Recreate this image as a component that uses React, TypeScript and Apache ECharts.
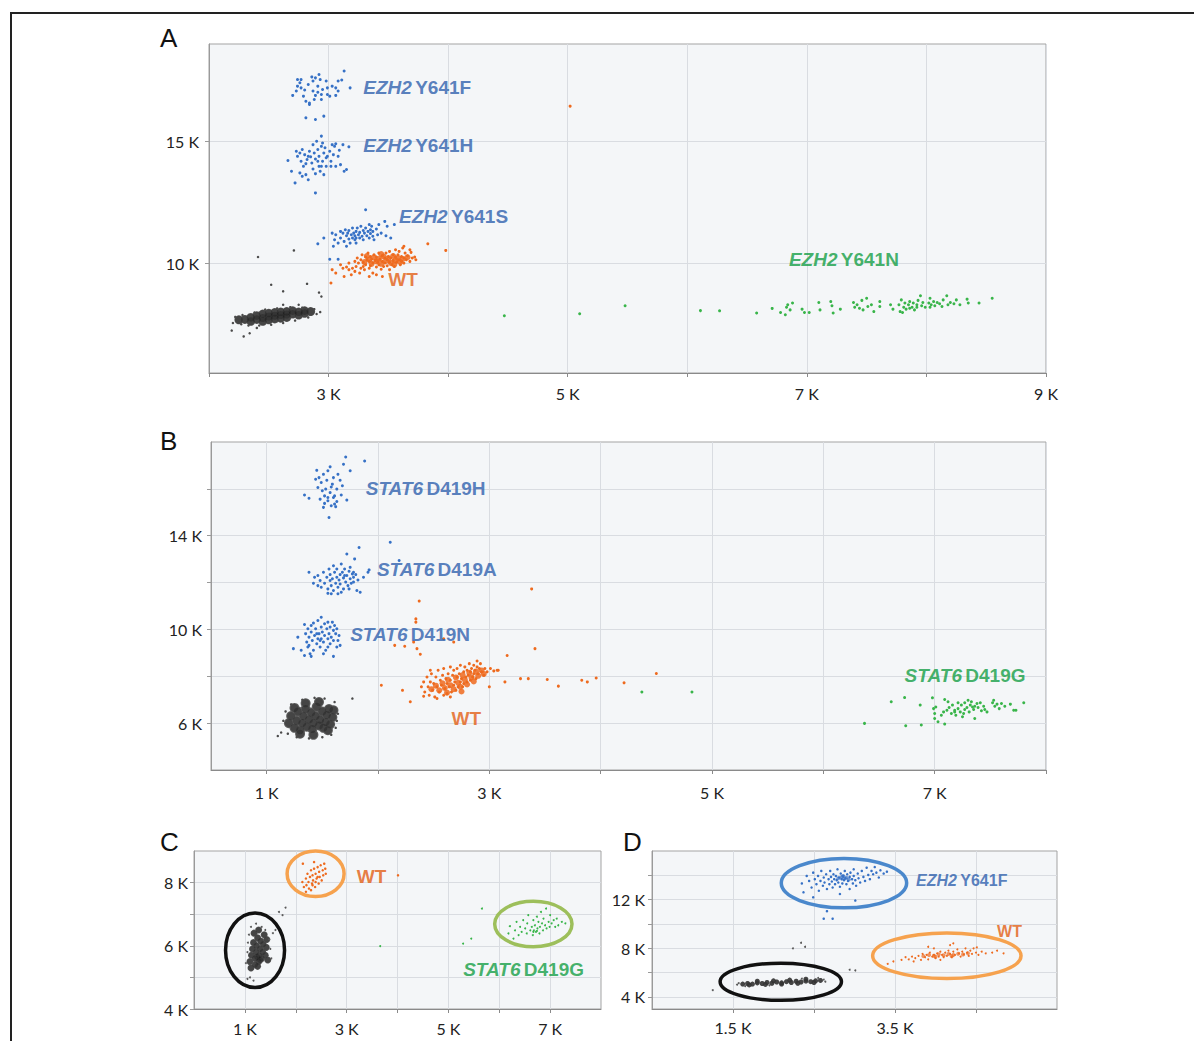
import { useEffect, useRef } from 'react';
import * as echarts from 'echarts';

type Pt = [number, number];

// All intensities are in thousands of fluorescence units (axis labels read "n K").

// ---------- Panel A: EZH2 Y641 ----------
const aNoTemplateCore: Pt[] = [
  [2.25, 7.68], [2.30, 7.70], [2.35, 7.78], [2.35, 7.62], [2.40, 7.85], [2.40, 7.70], [2.45, 7.92], [2.45, 7.76],
  [2.45, 7.62], [2.50, 7.95], [2.50, 7.82], [2.50, 7.68], [2.55, 7.98], [2.55, 7.85], [2.55, 7.72], [2.60, 8.00],
  [2.60, 7.88], [2.60, 7.75], [2.65, 8.02], [2.65, 7.90], [2.65, 7.78], [2.70, 8.05], [2.70, 7.92], [2.75, 8.00],
  [2.75, 7.88], [2.80, 8.05], [2.80, 7.95], [2.85, 8.02],
];
const aNoTemplateEdge: Pt[] = [
  [2.20, 7.55], [2.22, 7.80], [2.27, 7.50], [2.28, 7.88], [2.33, 7.45], [2.38, 7.98], [2.42, 7.45], [2.47, 8.10],
  [2.52, 7.48], [2.57, 8.15], [2.62, 7.55], [2.68, 8.20], [2.72, 7.65], [2.78, 8.18], [2.83, 7.78], [2.88, 8.12],
  [2.90, 7.92], [2.93, 8.00], [2.19, 7.24], [2.29, 7.00], [2.34, 7.13], [2.41, 10.26], [2.71, 10.53], [2.52, 9.12],
  [2.62, 8.85], [2.82, 9.16], [2.92, 8.80], [2.94, 8.64], [2.75, 8.30], [2.62, 8.30], [2.40, 7.35],
];
const aWildType: Pt[] = [
  [3.02, 9.19], [3.03, 9.74], [3.06, 9.60], [3.10, 9.94], [3.13, 9.46], [3.15, 9.85], [3.17, 10.01], [3.19, 9.53],
  [3.20, 9.80], [3.22, 10.08], [3.22, 9.67], [3.23, 9.87], [3.24, 10.22], [3.25, 10.01], [3.26, 9.60], [3.27, 10.15],
  [3.28, 10.35], [3.29, 9.87], [3.29, 10.04], [3.30, 9.74], [3.31, 10.26], [3.31, 9.94], [3.32, 10.15], [3.33, 10.42],
  [3.34, 9.80], [3.34, 10.08], [3.35, 10.28], [3.35, 9.90], [3.36, 10.17], [3.37, 9.60], [3.37, 10.01], [3.38, 10.35],
  [3.39, 10.12], [3.40, 9.85], [3.40, 10.26], [3.41, 10.04], [3.42, 10.42], [3.42, 9.94], [3.43, 10.17], [3.44, 9.76],
  [3.45, 10.31], [3.45, 10.08], [3.46, 9.87], [3.47, 10.22], [3.47, 10.01], [3.48, 10.42], [3.49, 10.15], [3.49, 9.90],
  [3.50, 10.28], [3.51, 10.04], [3.51, 10.49], [3.52, 10.22], [3.53, 9.94], [3.54, 10.35], [3.54, 10.12], [3.55, 9.87],
  [3.56, 10.26], [3.56, 10.56], [3.57, 10.04], [3.58, 10.35], [3.59, 10.15], [3.59, 10.49], [3.60, 9.94], [3.61, 10.28],
  [3.61, 10.08], [3.62, 10.63], [3.63, 10.22], [3.63, 10.01], [3.64, 10.42], [3.65, 10.15], [3.66, 10.31], [3.68, 10.08],
  [3.69, 10.45], [3.70, 10.22], [3.72, 10.26], [3.45, 9.46], [3.40, 9.53], [3.34, 9.46], [3.51, 9.74], [3.83, 10.80],
  [3.98, 10.53], [5.02, 16.45], [3.12, 9.80], [3.17, 9.74], [3.27, 9.80], [3.63, 10.70], [3.68, 10.56], [3.73, 10.15],
];
const aWildTypeCore: Pt[] = [
  [3.30, 10.05], [3.34, 10.15], [3.36, 9.98], [3.38, 10.25], [3.40, 10.08], [3.42, 10.18], [3.44, 9.98], [3.46, 10.28],
  [3.48, 10.10], [3.50, 10.20], [3.52, 10.02], [3.54, 10.30], [3.56, 10.12], [3.58, 10.22], [3.60, 10.05], [3.62, 10.18],
  [3.32, 10.30], [3.44, 10.38], [3.55, 9.95], [3.66, 10.25],
];
const aY641S: Pt[] = [
  [2.91, 10.80], [2.96, 11.04], [3.01, 10.17], [3.03, 11.24], [3.04, 10.70], [3.05, 10.97], [3.06, 11.17], [3.08, 10.83],
  [3.08, 10.17], [3.10, 11.31], [3.10, 11.04], [3.12, 11.24], [3.13, 10.90], [3.14, 11.38], [3.15, 11.13], [3.15, 10.70],
  [3.16, 11.24], [3.17, 11.00], [3.17, 11.35], [3.18, 10.83], [3.19, 11.17], [3.20, 11.04], [3.20, 11.45], [3.21, 11.24],
  [3.22, 10.97], [3.22, 11.13], [3.23, 11.31], [3.23, 10.83], [3.24, 11.45], [3.25, 11.17], [3.26, 11.04], [3.26, 11.27],
  [3.27, 11.52], [3.28, 11.11], [3.29, 11.35], [3.29, 10.97], [3.30, 11.24], [3.31, 12.20], [3.31, 11.45], [3.32, 11.13],
  [3.33, 11.31], [3.34, 11.59], [3.34, 11.04], [3.35, 11.38], [3.35, 11.22], [3.36, 11.52], [3.37, 11.11], [3.37, 11.31],
  [3.38, 10.97], [3.40, 11.41], [3.41, 11.17], [3.42, 11.59], [3.44, 11.24], [3.47, 11.72], [3.48, 11.13], [3.49, 11.52],
  [3.52, 11.04], [3.55, 11.59], [3.23, 11.04],
];
const aY641H: Pt[] = [
  [2.66, 14.22], [2.69, 13.78], [2.72, 13.30], [2.73, 14.60], [2.74, 14.39], [2.76, 14.53], [2.77, 14.19], [2.78, 14.67],
  [2.79, 13.98], [2.80, 14.46], [2.81, 13.64], [2.82, 14.26], [2.83, 13.43], [2.84, 14.60], [2.85, 14.37], [2.86, 14.12],
  [2.87, 14.87], [2.87, 13.87], [2.88, 14.53], [2.89, 12.89], [2.89, 14.28], [2.90, 15.01], [2.91, 14.67], [2.92, 13.98],
  [2.92, 14.39], [2.93, 13.78], [2.94, 14.80], [2.94, 15.22], [2.95, 14.19], [2.96, 14.53], [2.96, 13.64], [2.97, 14.74],
  [2.98, 13.98], [2.99, 14.39], [3.01, 14.60], [3.02, 14.19], [3.03, 14.87], [3.04, 14.46], [3.05, 14.80], [3.06, 14.91],
  [3.06, 13.98], [3.08, 14.39], [3.09, 14.64], [3.10, 14.05], [3.12, 14.87], [3.13, 13.78], [3.15, 13.85], [3.17, 14.78],
  [2.76, 13.71], [2.81, 14.09], [2.83, 14.39], [2.91, 14.19], [2.94, 13.98], [2.98, 14.33], [2.78, 13.57], [2.89, 13.68],
  [2.95, 14.94], [3.02, 13.98],
];
const aY641F: Pt[] = [
  [2.74, 17.54], [2.76, 17.41], [2.77, 17.20], [2.70, 16.89], [2.73, 17.07], [2.79, 16.86], [2.81, 16.65], [2.84, 16.58],
  [2.86, 17.65], [2.87, 17.48], [2.89, 17.61], [2.92, 17.75], [2.93, 17.54], [2.91, 17.27], [2.87, 17.07], [2.89, 16.89],
  [2.94, 16.72], [2.95, 17.13], [2.99, 17.20], [2.99, 16.93], [3.03, 17.27], [3.06, 17.20], [3.06, 16.89], [3.08, 17.48],
  [3.11, 17.52], [3.13, 17.89], [3.18, 17.20], [2.81, 15.97], [2.89, 15.90], [2.96, 16.04], [2.84, 16.52], [2.80, 17.11],
  [2.83, 17.34], [2.77, 17.54], [2.94, 16.93], [3.01, 16.86], [3.08, 17.07], [2.74, 17.27], [2.91, 17.02], [2.88, 16.72],
  [2.98, 17.48],
];
const aY641N: Pt[] = [
  [5.48, 8.26], [6.11, 8.06], [6.27, 8.05], [6.58, 7.96], [6.71, 8.15], [6.78, 7.98], [6.82, 7.89], [6.83, 8.20],
  [6.84, 8.30], [6.86, 8.09], [6.88, 8.37], [6.96, 8.12], [6.98, 7.98], [7.02, 7.98], [7.10, 8.39], [7.11, 8.09],
  [7.20, 8.43], [7.21, 8.26], [7.22, 7.96], [7.28, 8.12], [7.39, 8.39], [7.40, 8.20], [7.42, 8.30], [7.44, 8.16],
  [7.46, 8.48], [7.47, 8.09], [7.50, 8.57], [7.51, 8.23], [7.54, 8.30], [7.56, 8.02], [7.61, 8.43], [7.61, 8.23],
  [7.70, 8.30], [7.72, 8.12], [7.77, 8.30], [7.78, 8.02], [7.79, 8.50], [7.81, 8.20], [7.82, 8.37], [7.83, 8.12],
  [7.85, 8.30], [7.86, 8.43], [7.88, 8.20], [7.89, 8.37], [7.90, 8.09], [7.92, 8.30], [7.93, 8.48], [7.95, 8.67],
  [7.96, 8.26], [7.97, 8.39], [7.99, 8.20], [8.02, 8.37], [8.03, 8.57], [8.04, 8.30], [8.06, 8.43], [8.07, 8.26],
  [8.09, 8.39], [8.11, 8.34], [8.13, 8.23], [8.14, 8.50], [8.17, 8.67], [8.18, 8.30], [8.20, 8.39], [8.23, 8.34],
  [8.25, 8.50], [8.28, 8.30], [8.34, 8.53], [8.35, 8.37], [8.44, 8.37], [8.55, 8.57], [7.80, 7.98], [7.86, 8.16],
  [7.92, 8.20], [8.03, 8.20], [4.47, 7.85], [5.10, 7.93],
];

// ---------- Panel B: STAT6 D419 ----------
const bNoTemplateCore: Pt[] = [
  [1.20, 6.00], [1.22, 6.30], [1.25, 5.80], [1.27, 6.10], [1.28, 6.50], [1.30, 5.70], [1.32, 6.00], [1.33, 6.30],
  [1.35, 6.60], [1.36, 5.85], [1.38, 6.15], [1.40, 6.45], [1.41, 5.75], [1.42, 6.00], [1.44, 6.30], [1.45, 6.70],
  [1.47, 5.90], [1.48, 6.15], [1.50, 6.50], [1.51, 5.80], [1.53, 6.05], [1.54, 6.35], [1.56, 6.60], [1.57, 5.95],
  [1.59, 6.25], [1.60, 6.55], [1.35, 6.85], [1.47, 6.90], [1.30, 5.55], [1.42, 5.50], [1.25, 6.65], [1.55, 5.70],
];
const bNoTemplateEdge: Pt[] = [
  [1.13, 5.60], [1.15, 6.10], [1.17, 6.50], [1.19, 5.55], [1.22, 6.80], [1.27, 5.40], [1.32, 7.00], [1.38, 5.35],
  [1.43, 7.08], [1.50, 5.40], [1.52, 7.05], [1.58, 5.50], [1.61, 6.90], [1.63, 6.10], [1.64, 6.40], [1.10, 5.45],
  [1.77, 7.05], [1.62, 5.80],
];
const bWildType: Pt[] = [
  [2.39, 7.55], [2.41, 7.76], [2.42, 7.33], [2.44, 7.97], [2.45, 7.55], [2.46, 7.19], [2.47, 7.76], [2.48, 8.11],
  [2.49, 7.40], [2.50, 7.69], [2.51, 7.12], [2.52, 7.97], [2.53, 7.55], [2.54, 8.26], [2.55, 7.33], [2.56, 7.83],
  [2.57, 7.62], [2.58, 8.04], [2.59, 7.19], [2.59, 8.33], [2.60, 7.48], [2.61, 7.90], [2.62, 7.69], [2.62, 7.26],
  [2.63, 8.11], [2.64, 7.55], [2.65, 8.40], [2.65, 7.83], [2.66, 7.33], [2.67, 8.04], [2.68, 7.62], [2.68, 8.26],
  [2.69, 7.76], [2.70, 7.40], [2.71, 7.97], [2.71, 8.33], [2.72, 7.55], [2.73, 8.11], [2.74, 7.76], [2.74, 8.47],
  [2.75, 7.90], [2.76, 7.55], [2.77, 8.19], [2.77, 7.69], [2.78, 8.40], [2.79, 7.97], [2.80, 7.76], [2.80, 8.26],
  [2.81, 8.04], [2.82, 8.54], [2.83, 7.83], [2.83, 8.19], [2.84, 8.33], [2.85, 7.97], [2.86, 8.47], [2.86, 8.11],
  [2.87, 8.26], [2.88, 7.90], [2.89, 8.40], [2.90, 8.11], [2.91, 8.33], [2.92, 8.54], [2.93, 8.19], [2.95, 8.04],
  [2.96, 8.33], [2.98, 8.19], [3.01, 8.33], [3.04, 8.23], [3.07, 8.26], [2.41, 7.15], [2.53, 7.05], [2.65, 7.12],
  [2.47, 8.26], [2.89, 8.65],
  [2.37, 11.21], [2.34, 10.45], [2.34, 10.31], [2.15, 9.32], [2.24, 9.28], [2.32, 9.46], [2.35, 9.18], [2.38, 8.94],
  [2.59, 9.60], [2.68, 9.46], [3.38, 11.73], [3.41, 9.18], [3.16, 8.89], [2.03, 7.62], [2.22, 7.40], [2.29, 6.91],
  [3.14, 7.76], [3.28, 7.90], [3.35, 7.90], [3.52, 7.86], [3.62, 7.58], [3.83, 7.83], [3.88, 7.76], [3.96, 7.93],
  [3.00, 7.55], [3.08, 8.26], [4.21, 7.72], [4.50, 8.12],
];
const bWildTypeCore: Pt[] = [
  [2.48, 7.45], [2.52, 7.60], [2.55, 7.40], [2.58, 7.70], [2.60, 7.50], [2.63, 7.85], [2.65, 7.62], [2.68, 7.45],
  [2.70, 7.95], [2.72, 7.72], [2.74, 7.55], [2.76, 8.05], [2.78, 7.85], [2.80, 7.65], [2.82, 8.15], [2.84, 7.95],
  [2.86, 7.78], [2.88, 8.20], [2.90, 8.02], [2.93, 8.25], [2.62, 7.30], [2.75, 7.35], [2.95, 8.10],
];
const bD419N: Pt[] = [
  [1.24, 9.18], [1.28, 9.67], [1.31, 9.11], [1.34, 8.89], [1.34, 10.21], [1.35, 9.82], [1.36, 9.46], [1.37, 10.03],
  [1.37, 9.25], [1.38, 9.67], [1.39, 8.96], [1.40, 10.17], [1.40, 9.89], [1.41, 9.53], [1.42, 9.11], [1.42, 10.27],
  [1.43, 9.74], [1.44, 10.03], [1.45, 9.39], [1.46, 9.60], [1.46, 10.38], [1.47, 9.82], [1.48, 9.25], [1.49, 10.10],
  [1.49, 9.60], [1.50, 9.89], [1.51, 9.46], [1.52, 10.24], [1.52, 9.74], [1.53, 9.11], [1.54, 10.03], [1.55, 9.60],
  [1.55, 10.31], [1.56, 9.82], [1.57, 9.39], [1.57, 10.10], [1.58, 9.67], [1.59, 10.31], [1.60, 9.96], [1.60, 9.53],
  [1.61, 10.17], [1.62, 9.82], [1.63, 9.25], [1.63, 10.03], [1.64, 9.53], [1.65, 9.74], [1.66, 9.32], [1.60, 8.85],
  [1.49, 10.52], [1.40, 8.85], [1.45, 9.82], [1.48, 9.53], [1.38, 9.32], [1.55, 9.25], [1.51, 8.96],
];
const bD419A: Pt[] = [
  [1.38, 12.44], [1.42, 11.97], [1.43, 12.23], [1.46, 11.87], [1.46, 12.30], [1.48, 12.09], [1.49, 11.80], [1.51, 12.44],
  [1.52, 11.97], [1.54, 12.23], [1.55, 11.54], [1.55, 11.73], [1.56, 12.58], [1.57, 12.09], [1.57, 12.34], [1.58, 11.87],
  [1.59, 12.16], [1.60, 12.72], [1.60, 11.66], [1.61, 12.44], [1.62, 11.97], [1.63, 12.23], [1.63, 12.58], [1.64, 11.80],
  [1.65, 12.11], [1.66, 12.34], [1.66, 11.94], [1.67, 12.79], [1.68, 12.44], [1.69, 11.73], [1.69, 12.20], [1.70, 12.58],
  [1.71, 12.02], [1.72, 13.22], [1.72, 12.30], [1.73, 11.87], [1.74, 12.48], [1.75, 12.16], [1.75, 12.65], [1.76, 11.97],
  [1.77, 12.37], [1.78, 12.23], [1.78, 12.02], [1.79, 13.01], [1.80, 12.34], [1.81, 11.66], [1.82, 12.11], [1.83, 13.50],
  [1.84, 11.59], [1.87, 12.23], [1.91, 12.44], [1.92, 12.54], [2.11, 13.72], [2.19, 12.94], [1.58, 11.52], [1.64, 11.52],
  [1.74, 11.73], [1.67, 11.59], [1.78, 12.44], [1.70, 12.30],
];
const bD419H: Pt[] = [
  [1.34, 15.74], [1.38, 15.60], [1.44, 16.41], [1.45, 16.79], [1.46, 16.06], [1.48, 15.56], [1.49, 16.27], [1.50, 15.92],
  [1.51, 16.62], [1.52, 15.38], [1.52, 15.70], [1.53, 15.99], [1.54, 16.37], [1.55, 15.49], [1.55, 16.77], [1.56, 14.78],
  [1.57, 16.94], [1.57, 15.84], [1.58, 15.28], [1.59, 16.20], [1.60, 15.63], [1.60, 16.48], [1.61, 15.35], [1.62, 15.24],
  [1.63, 15.99], [1.63, 15.46], [1.64, 16.62], [1.66, 16.37], [1.67, 15.74], [1.68, 16.13], [1.69, 17.05], [1.71, 17.36],
  [1.72, 15.52], [1.75, 16.77], [1.88, 17.19], [1.47, 16.48], [1.58, 16.08], [1.61, 15.70], [1.51, 15.21], [1.55, 15.63],
];
const bD419G: Pt[] = [
  [6.37, 5.99], [6.61, 6.91], [6.73, 7.09], [6.74, 5.89], [6.87, 6.77], [6.88, 5.92], [6.98, 7.08], [6.99, 6.62],
  [7.00, 6.20], [7.00, 6.41], [7.01, 6.69], [7.03, 6.06], [7.06, 6.34], [7.08, 6.48], [7.09, 5.96], [7.09, 7.01],
  [7.11, 6.55], [7.12, 6.91], [7.13, 6.67], [7.15, 6.41], [7.16, 6.77], [7.18, 6.55], [7.19, 6.34], [7.21, 6.87],
  [7.21, 6.62], [7.23, 6.48], [7.24, 6.77], [7.25, 6.27], [7.27, 6.58], [7.27, 6.87], [7.29, 6.67], [7.30, 6.98],
  [7.31, 6.48], [7.32, 6.77], [7.33, 6.91], [7.35, 6.58], [7.36, 6.20], [7.36, 6.72], [7.38, 6.84], [7.39, 6.67],
  [7.41, 6.87], [7.42, 6.53], [7.44, 6.72], [7.45, 6.58], [7.47, 6.48], [7.52, 6.87], [7.53, 6.98], [7.54, 6.72],
  [7.56, 6.81], [7.58, 6.62], [7.60, 6.84], [7.63, 6.72], [7.68, 6.81], [7.71, 6.55], [7.73, 6.55], [7.80, 6.87],
  [7.18, 6.48], [7.26, 6.41], [7.34, 6.69], [4.37, 7.33], [4.82, 7.33],
];

// ---------- Panel C: STAT6 D419G sample ----------
const cNoTemplateCore: Pt[] = [
  [1.10, 5.50], [1.13, 5.70], [1.15, 5.90], [1.17, 6.10], [1.20, 5.40], [1.20, 5.60], [1.22, 5.80], [1.23, 6.00],
  [1.25, 6.25], [1.27, 5.50], [1.28, 5.70], [1.30, 5.90], [1.31, 6.15], [1.33, 5.60], [1.35, 5.80], [1.36, 6.05],
  [1.38, 6.35], [1.40, 5.70], [1.42, 5.95], [1.43, 6.20], [1.18, 6.40], [1.27, 6.50], [1.12, 5.30], [1.25, 5.35],
  [1.45, 5.55], [1.24, 5.65], [1.30, 5.55],
];
const cNoTemplateEdge: Pt[] = [
  [1.02, 5.45], [1.05, 5.80], [1.06, 6.10], [1.08, 6.35], [1.12, 6.60], [1.22, 6.70], [1.33, 6.60], [1.40, 6.50],
  [1.48, 6.20], [1.50, 5.90], [1.52, 5.60], [1.55, 6.40], [1.10, 5.00], [1.17, 4.90], [1.05, 4.95], [1.60, 6.50],
  [1.67, 7.07], [1.80, 7.21], [1.74, 6.97],
];
const cWildType: Pt[] = [
  [2.13, 8.02], [2.14, 8.60], [2.16, 7.86], [2.20, 8.13], [2.21, 7.92], [2.23, 8.28], [2.25, 8.02], [2.26, 7.81],
  [2.28, 8.18], [2.30, 8.39], [2.32, 7.97], [2.33, 8.23], [2.34, 8.07], [2.36, 8.44], [2.38, 7.86], [2.39, 8.28],
  [2.41, 8.13], [2.43, 8.49], [2.45, 7.97], [2.46, 8.34], [2.47, 8.18], [2.49, 8.55], [2.51, 8.07], [2.53, 8.39],
  [2.54, 8.23], [2.56, 8.60], [2.58, 8.44], [2.59, 8.28], [2.30, 7.76], [2.20, 7.71], [2.36, 8.65], [2.39, 8.02],
  [2.33, 7.92], [2.43, 8.18], [4.01, 8.23],
];
const cD419G: Pt[] = [
  [6.18, 6.39], [6.21, 6.62], [6.28, 6.23], [6.31, 6.49], [6.34, 6.76], [6.38, 6.34], [6.41, 6.60], [6.44, 6.44],
  [6.47, 6.81], [6.51, 6.55], [6.54, 6.39], [6.55, 6.71], [6.57, 6.97], [6.61, 6.49], [6.64, 6.60], [6.66, 6.34],
  [6.67, 6.81], [6.68, 6.49], [6.70, 6.65], [6.72, 6.44], [6.74, 6.92], [6.75, 6.55], [6.77, 6.76], [6.79, 6.39],
  [6.80, 6.60], [6.82, 7.07], [6.84, 6.71], [6.86, 6.49], [6.87, 6.86], [6.90, 6.65], [6.92, 7.18], [6.93, 6.55],
  [6.97, 6.76], [6.99, 6.60], [7.00, 6.97], [7.03, 6.71], [7.07, 6.81], [7.10, 6.60], [7.13, 6.86], [7.16, 6.65],
  [7.23, 6.76], [7.30, 6.71], [6.11, 6.20], [6.74, 6.47], [6.67, 6.44],
  [3.66, 5.99], [5.29, 6.07], [5.45, 6.23], [5.66, 7.18],
];

// ---------- Panel D: EZH2 Y641F sample ----------
const dNoTemplateCore: Pt[] = [
  [1.62, 5.05], [1.68, 5.10], [1.74, 5.05], [1.80, 5.15], [1.86, 5.10], [1.92, 5.18], [1.98, 5.12], [2.04, 5.22],
  [2.10, 5.15], [2.16, 5.25], [2.22, 5.18], [2.28, 5.28], [2.34, 5.22], [2.40, 5.30], [2.46, 5.25], [2.52, 5.32],
  [2.58, 5.35], [1.70, 4.98], [1.90, 5.02], [2.10, 5.05], [2.30, 5.12], [2.50, 5.18], [1.80, 5.28], [2.00, 5.32],
  [2.20, 5.38], [2.40, 5.45],
];
const dNoTemplateEdge: Pt[] = [
  [1.55, 5.00], [1.57, 5.12], [1.65, 4.88], [2.62, 5.42], [2.64, 5.25], [2.55, 5.55], [2.35, 5.50], [1.95, 4.95],
  [1.25, 4.55], [2.24, 7.99], [2.34, 8.45], [2.39, 8.12], [2.94, 6.23], [3.01, 6.17],
];
const dWildType: Pt[] = [
  [3.41, 6.72], [3.48, 6.91], [3.58, 7.04], [3.63, 7.26], [3.67, 7.09], [3.71, 7.31], [3.75, 7.18], [3.79, 7.37],
  [3.82, 7.04], [3.84, 7.53], [3.87, 7.26], [3.89, 7.45], [3.91, 7.09], [3.93, 7.64], [3.96, 7.31], [3.98, 7.45],
  [4.00, 7.18], [4.02, 7.58], [4.04, 7.31], [4.06, 7.72], [4.08, 7.45], [4.10, 7.26], [4.12, 7.64], [4.14, 7.37],
  [4.16, 7.80], [4.18, 7.53], [4.20, 7.26], [4.22, 7.72], [4.24, 7.45], [4.27, 7.91], [4.29, 7.58], [4.31, 7.31],
  [4.33, 7.72], [4.35, 7.50], [4.37, 7.99], [4.39, 7.64], [4.41, 7.37], [4.43, 7.80], [4.45, 7.53], [4.47, 7.99],
  [4.50, 7.64], [4.53, 7.45], [4.57, 7.72], [4.62, 7.58], [4.70, 7.64], [4.76, 7.80], [4.84, 7.58], [4.18, 8.26],
  [4.22, 8.40], [3.91, 8.12], [3.73, 6.91], [4.06, 7.04], [3.98, 7.99], [4.51, 8.07],
];
const dWildTypeCore: Pt[] = [
  [3.85, 7.35], [3.92, 7.45], [3.98, 7.38], [4.04, 7.50], [4.10, 7.42], [4.16, 7.52], [4.22, 7.45], [4.28, 7.55],
  [4.34, 7.48], [4.40, 7.58], [4.00, 7.30], [4.20, 7.35],
];
const dY641F: Pt[] = [
  [2.35, 13.33], [2.37, 12.60], [2.41, 13.95], [2.44, 13.54], [2.47, 13.00], [2.49, 14.22], [2.51, 13.68], [2.53, 13.27],
  [2.55, 13.95], [2.56, 12.73], [2.58, 13.54], [2.59, 14.36], [2.61, 13.14], [2.62, 13.82], [2.63, 13.41], [2.65, 14.09],
  [2.66, 12.87], [2.68, 13.68], [2.69, 13.27], [2.70, 14.36], [2.71, 13.87], [2.72, 13.49], [2.73, 13.00], [2.74, 14.09],
  [2.75, 13.68], [2.76, 13.27], [2.77, 13.95], [2.78, 13.60], [2.79, 14.49], [2.80, 13.41], [2.81, 13.82], [2.82, 13.06],
  [2.83, 14.14], [2.84, 13.68], [2.85, 13.33], [2.86, 13.95], [2.87, 13.60], [2.88, 14.36], [2.89, 13.76], [2.90, 13.27],
  [2.91, 14.09], [2.92, 13.54], [2.94, 13.87], [2.94, 12.87], [2.95, 14.22], [2.97, 13.68], [2.98, 13.33], [2.99, 14.49],
  [2.99, 13.95], [3.01, 13.60], [3.02, 13.14], [3.04, 14.14], [3.05, 13.76], [3.07, 13.41], [3.09, 14.36], [3.11, 13.87],
  [3.13, 13.54], [3.15, 14.63], [3.17, 14.03], [3.19, 13.68], [3.21, 14.36], [3.23, 14.09], [3.25, 14.68], [3.27, 14.22],
  [3.30, 13.82], [3.32, 14.41], [3.36, 14.14], [3.40, 14.30], [2.66, 11.05], [2.62, 10.43], [2.73, 10.43], [3.01, 11.92],
  [2.49, 12.19], [2.82, 12.46],
];
const dY641FCore: Pt[] = [
  [2.80, 13.75], [2.84, 13.85], [2.87, 13.70], [2.90, 13.80], [2.86, 13.95], [2.93, 13.65],
];

// Cluster annotations: gene (italic) + allele, anchored at the left end of the text.
type Tag = { gene: string; allele: string; at: Pt; tone: 'mut' | 'wt' | 'alt' };
const tagsA: Tag[] = [
  { gene: 'EZH2', allele: 'Y641F', at: [3.29, 17.22], tone: 'mut' },
  { gene: 'EZH2', allele: 'Y641H', at: [3.29, 14.84], tone: 'mut' },
  { gene: 'EZH2', allele: 'Y641S', at: [3.59, 11.93], tone: 'mut' },
  { gene: '', allele: 'WT', at: [3.5, 9.33], tone: 'wt' },
  { gene: 'EZH2', allele: 'Y641N', at: [6.85, 10.15], tone: 'alt' },
];
const tagsB: Tag[] = [
  { gene: 'STAT6', allele: 'D419H', at: [1.89, 16.03], tone: 'mut' },
  { gene: 'STAT6', allele: 'D419A', at: [1.99, 12.57], tone: 'mut' },
  { gene: 'STAT6', allele: 'D419N', at: [1.75, 9.8], tone: 'mut' },
  { gene: '', allele: 'WT', at: [2.66, 6.18], tone: 'wt' },
  { gene: 'STAT6', allele: 'D419G', at: [6.73, 8.03], tone: 'alt' },
];
const tagsC: Tag[] = [
  { gene: '', allele: 'WT', at: [3.2, 8.2], tone: 'wt' },
  { gene: 'STAT6', allele: 'D419G', at: [5.29, 5.26], tone: 'alt' },
];
const tagsD: Tag[] = [
  { gene: 'EZH2', allele: 'Y641F', at: [3.76, 13.54], tone: 'mut' },
  { gene: '', allele: 'WT', at: [4.76, 9.34], tone: 'wt' },
];

// Gating ellipses: centre x, centre y, radius x, radius y
const ringsC: number[][] = [[1.2, 5.86, 0.58, 1.18], [2.39, 8.28, 0.56, 0.72], [6.67, 6.69, 0.76, 0.72]];
const ringsD: number[][] = [[2.87, 13.36, 0.774, 2.03], [4.14, 7.38, 0.916, 1.88], [2.09, 5.24, 0.749, 1.53]];

// Axis ticks and labelled values per panel
const ticksAx = [2, 3, 4, 5, 6, 7, 8, 9];
const labelsAx = [3, 5, 7, 9];
const ticksAy = [10, 15];
const ticksBx = [1, 2, 3, 4, 5, 6, 7, 8];
const labelsBx = [1, 3, 5, 7];
const ticksBy = [6, 8, 10, 12, 14, 16];
const labelsBy = [6, 10, 14];
const ticksCx = [1, 2, 3, 4, 5, 6, 7];
const labelsCx = [1, 3, 5, 7];
const ticksCy = [4, 5, 6, 7, 8];
const labelsCy = [4, 6, 8];
const ticksDx = [1.5, 2.5, 3.5, 4.5];
const labelsDx = [1.5, 3.5];
const ticksDy = [4, 6, 8, 10, 12, 14];
const labelsDy = [4, 8, 12];

const BLUE = '#3671c6';
const ORANGE = '#ee6a1e';
const GREEN = '#39b54a';
const HALO = '#5c5c5c';
const DARK = '#111111';
const TONE_TEXT: Record<Tag['tone'], string> = { mut: '#2e60ad', wt: '#e35e14', alt: '#159e45' };
const TAG_FONT = '"Liberation Sans", Arial, sans-serif';
const AXIS_FONT = 'Lato, "Open Sans", sans-serif';

const kLabel = (v: number) => `${v} K`;

function xAxis(grid: number, min: number, max: number, ticks: number[], labels: number[], margin: number) {
  return {
    type: 'value', gridIndex: grid, min, max,
    axisLine: { show: true, onZero: false, lineStyle: { color: '#8a8a8a', width: 1 } },
    axisTick: { show: true, length: 4, customValues: ticks, lineStyle: { color: '#8a8a8a' } },
    axisLabel: {
      customValues: labels, formatter: kLabel, margin, color: '#222',
      fontSize: 16, fontFamily: AXIS_FONT, showMinLabel: true, showMaxLabel: true,
    },
    splitLine: { show: true, lineStyle: { color: '#d9dce1', width: 1 } },
  };
}

function yAxis(grid: number, min: number, max: number, ticks: number[], labels: number[], margin: number) {
  return {
    type: 'value', gridIndex: grid, min, max,
    axisLine: { show: true, onZero: false, lineStyle: { color: '#9a9a9a', width: 1 } },
    axisTick: { show: true, length: 4, customValues: ticks, lineStyle: { color: '#9a9a9a' } },
    axisLabel: {
      customValues: labels, formatter: kLabel, margin, color: '#222',
      fontSize: 16, fontFamily: AXIS_FONT, showMinLabel: true, showMaxLabel: true,
    },
    splitLine: { show: true, lineStyle: { color: '#d9dce1', width: 1 } },
  };
}

function dots(grid: number, data: Pt[], color: string, size: number, opacity = 1, z = 2) {
  return {
    type: 'scatter', xAxisIndex: grid, yAxisIndex: grid, data, symbol: 'circle', symbolSize: size,
    itemStyle: { color, opacity }, silent: true, z,
  };
}

// A dense droplet cloud: a grey halo with a darker centre drawn from the same points.
function cloud(grid: number, data: Pt[], outer: number, inner: number) {
  return [dots(grid, data, HALO, outer, 1), dots(grid, data, DARK, inner, 0.3)];
}

function tags(grid: number, list: Tag[], fontSize: number) {
  return {
    type: 'scatter', xAxisIndex: grid, yAxisIndex: grid, symbolSize: 0, silent: true, z: 10,
    data: list.map((t) => ({ value: t.at, gene: t.gene, allele: t.allele, tone: t.tone })),
    label: {
      show: true, position: 'right', distance: 0,
      formatter: (p: any) => {
        const d = p.data;
        const key = d.tone;
        return d.gene ? `{g_${key}|${d.gene}} {a_${key}|${d.allele}}` : `{a_${key}|${d.allele}}`;
      },
      rich: Object.fromEntries(
        (['mut', 'wt', 'alt'] as const).flatMap((k) => [
          [`g_${k}`, { color: TONE_TEXT[k], fontStyle: 'italic', fontWeight: 'bold', fontSize, fontFamily: TAG_FONT }],
          [`a_${k}`, { color: TONE_TEXT[k], fontWeight: 'bold', fontSize, fontFamily: TAG_FONT }],
        ]),
      ),
    },
  };
}

function rings(grid: number, list: number[][], colors: string[], width: number) {
  return {
    type: 'custom', xAxisIndex: grid, yAxisIndex: grid, silent: true, z: 6,
    data: list, encode: { x: 0, y: 1 },
    renderItem: (params: any, api: any) => {
      const c = api.coord([api.value(0), api.value(1)]);
      const s = api.size([api.value(2), api.value(3)]);
      return {
        type: 'ellipse',
        shape: { cx: c[0], cy: c[1], rx: s[0], ry: s[1] },
        style: { fill: 'none', stroke: colors[params.dataIndex], lineWidth: width },
      };
    },
  };
}

const gridStyle = { show: true, backgroundColor: '#f4f6f8', borderColor: '#a3a3a3', borderWidth: 1 };

function panelLetter(text: string, x: number, y: number) {
  return {
    type: 'text', x, y, silent: true,
    style: { text, fontSize: 26, fontFamily: '"Liberation Sans", Arial, sans-serif', fill: '#111', verticalAlign: 'top' },
  };
}

export default function App() {
  const ref = useRef<HTMLDivElement>(null);

  useEffect(() => {
    if (!ref.current) return;
    const chart = echarts.init(ref.current, undefined, { renderer: 'svg' });
    chart.setOption({
      animation: false,
      backgroundColor: '#ffffff',
      grid: [
        { ...gridStyle, left: 209, top: 44, width: 837, height: 329 },
        { ...gridStyle, left: 211, top: 442, width: 835, height: 328 },
        { ...gridStyle, left: 194, top: 851, width: 407, height: 158 },
        { ...gridStyle, left: 652, top: 851, width: 405, height: 158 },
      ],
      xAxis: [
        xAxis(0, 2, 9, ticksAx, labelsAx, 12),
        xAxis(1, 0.5, 8, ticksBx, labelsBx, 14),
        xAxis(2, 0, 8, ticksCx, labelsCx, 11),
        xAxis(3, 0.5, 5.5, ticksDx, labelsDx, 10),
      ],
      yAxis: [
        yAxis(0, 5.5, 19, ticksAy, ticksAy, 10),
        yAxis(1, 4, 18, ticksBy, labelsBy, 9),
        yAxis(2, 4, 9, ticksCy, labelsCy, 6),
        yAxis(3, 3, 16, ticksDy, labelsDy, 7),
      ],
      graphic: [
        { type: 'line', silent: true, shape: { x1: 10, y1: 13, x2: 1194, y2: 13 }, style: { stroke: '#222', lineWidth: 2 } },
        { type: 'line', silent: true, shape: { x1: 11, y1: 12, x2: 11, y2: 1041 }, style: { stroke: '#222', lineWidth: 2 } },
        panelLetter('A', 160, 25),
        panelLetter('B', 160, 428),
        panelLetter('C', 160, 829),
        panelLetter('D', 623, 829),
      ],
      series: [
        // A
        ...cloud(0, aNoTemplateCore, 9, 8),
        dots(0, aNoTemplateEdge, '#4a4a4a', 2.5),
        dots(0, aWildTypeCore, ORANGE, 6, 0.85),
        dots(0, aWildType, ORANGE, 3),
        dots(0, aY641S, BLUE, 3),
        dots(0, aY641H, BLUE, 3),
        dots(0, aY641F, BLUE, 3),
        dots(0, aY641N, GREEN, 3),
        tags(0, tagsA, 19),
        // B
        ...cloud(1, bNoTemplateCore, 10, 8),
        dots(1, bNoTemplateEdge, '#4a4a4a', 2.5),
        dots(1, bWildTypeCore, ORANGE, 6, 0.85),
        dots(1, bWildType, ORANGE, 3),
        dots(1, bD419N, BLUE, 3),
        dots(1, bD419A, BLUE, 3),
        dots(1, bD419H, BLUE, 3),
        dots(1, bD419G, GREEN, 3),
        tags(1, tagsB, 19),
        // C
        ...cloud(2, cNoTemplateCore, 7, 6),
        dots(2, cNoTemplateEdge, '#5a5a5a', 2),
        dots(2, cWildType, ORANGE, 2.5),
        dots(2, cD419G, GREEN, 2),
        rings(2, ringsC, ['#111111', '#f6a24e', '#9dbf5b'], 3.5),
        tags(2, tagsC, 19),
        // D
        ...cloud(3, dNoTemplateCore, 5, 5),
        dots(3, dNoTemplateEdge, '#5a5a5a', 2),
        dots(3, dWildTypeCore, ORANGE, 4, 0.7),
        dots(3, dWildType, ORANGE, 2),
        dots(3, dY641FCore, BLUE, 4, 0.7),
        dots(3, dY641F, BLUE, 2.5),
        rings(3, ringsD, ['#4a88cc', '#f6a24e', '#111111'], 3.5),
        tags(3, tagsD, 16),
      ],
    });
    return () => chart.dispose();
  }, []);

  return (
    <div
      ref={ref}
      style={{ position: 'fixed', left: 0, top: 0, width: 1194, height: 1041, background: '#fff' }}
    />
  );
}
